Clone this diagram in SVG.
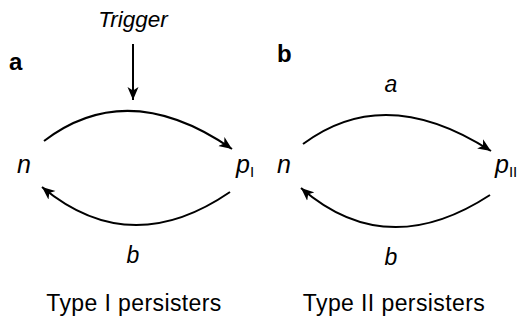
<svg xmlns="http://www.w3.org/2000/svg" width="518" height="325" viewBox="0 0 518 325">
<defs>
<marker id="ah" markerUnits="userSpaceOnUse" markerWidth="14" markerHeight="12" viewBox="0 0 14 12" refX="13" refY="6" orient="auto">
<path d="M0,0.5 L13,6 L0,11.5 L3.5,6 Z" fill="#000"/>
</marker>
<style>
.t{font-family:"Liberation Sans",Arial,sans-serif;fill:#000}
.i{font-style:italic}
.bd{font-weight:bold}
.c{fill:none;stroke:#000;stroke-width:2;marker-end:url(#ah)}
</style>
</defs>
<rect width="518" height="325" fill="#fff"/>
<g id="connectors">
<path class="c" d="M133,44 L133,100"/>
<path class="c" d="M44,141 Q128,77 232,149"/>
<path class="c" d="M230,192 Q130,260.5 42,187"/>
<path class="c" d="M303,144 Q385,82.5 491,151"/>
<path class="c" d="M490,195 Q386.5,262.5 301,188"/>
</g>
<g id="trigger"><text class="t i" x="133" y="27" font-size="22.5" text-anchor="middle">Trigger</text></g>
<g id="label-a"><text class="t bd" x="9" y="70" font-size="24">a</text></g>
<g id="label-b"><text class="t bd" x="277" y="62" font-size="24">b</text></g>
<g id="n1"><text class="t i" x="17" y="173" font-size="25">n</text></g>
<g id="p1"><text class="t i" x="236" y="173" font-size="25">p<tspan font-size="15" font-style="normal" dy="4">I</tspan></text></g>
<g id="n2"><text class="t i" x="277" y="173" font-size="25">n</text></g>
<g id="p2"><text class="t i" x="495" y="173" font-size="25">p<tspan font-size="15" font-style="normal" dy="4">II</tspan></text></g>
<g id="rate-a"><text class="t i" x="391" y="92" font-size="23" text-anchor="middle">a</text></g>
<g id="rate-b1"><text class="t i" x="133" y="263" font-size="23" text-anchor="middle">b</text></g>
<g id="rate-b2"><text class="t i" x="391" y="265" font-size="23" text-anchor="middle">b</text></g>
<g id="title1"><text class="t" x="134" y="311" font-size="23" text-anchor="middle" letter-spacing="0.4">Type I persisters</text></g>
<g id="title2"><text class="t" x="394" y="311" font-size="23" text-anchor="middle" letter-spacing="0.4">Type II persisters</text></g>
</svg>
